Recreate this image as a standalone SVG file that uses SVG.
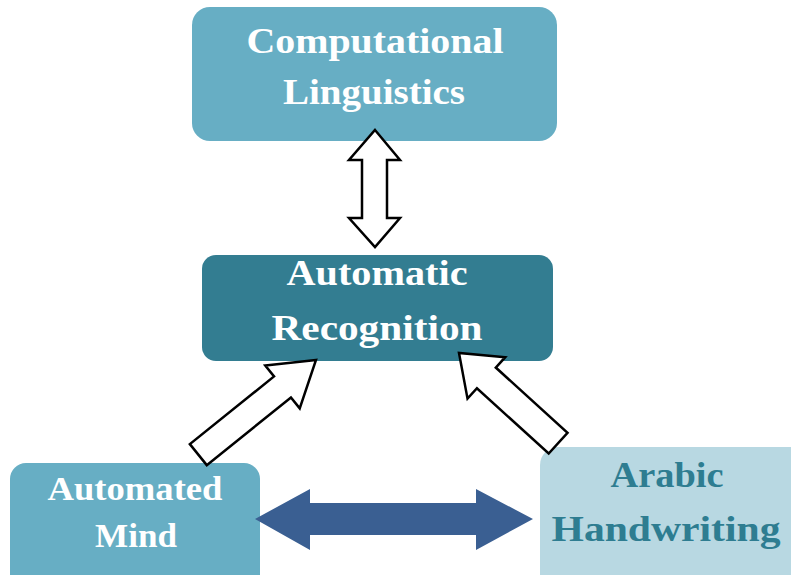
<svg xmlns="http://www.w3.org/2000/svg" width="791" height="575" viewBox="0 0 791 575">
<style>
.t{font-family:"Liberation Serif","DejaVu Serif",serif;font-weight:bold;text-anchor:middle;}
.w{fill:#ffffff;}
.o{fill:#ffffff;stroke:#000000;stroke-width:2.5;stroke-linejoin:miter;}
</style>
<rect width="791" height="575" fill="#ffffff"/>
<g id="computational-linguistics">
<rect x="192" y="7" width="365" height="134" rx="18" fill="#67AEC4"/>
<text class="t w" x="375" y="53" font-size="35" textLength="257" lengthAdjust="spacingAndGlyphs">Computational</text>
<text class="t w" x="374" y="104" font-size="35" textLength="182" lengthAdjust="spacingAndGlyphs">Linguistics</text>
</g>
<g id="automatic-recognition">
<rect x="202" y="255" width="351" height="106" rx="14" fill="#337D91"/>
<text class="t w" x="377" y="285" font-size="35" textLength="181" lengthAdjust="spacingAndGlyphs">Automatic</text>
<text class="t w" x="377" y="340" font-size="35" textLength="211" lengthAdjust="spacingAndGlyphs">Recognition</text>
</g>
<g id="automated-mind">
<rect x="10" y="463" width="250" height="130" rx="16" fill="#67AEC4"/>
<text class="t w" x="135" y="500" font-size="34" textLength="175" lengthAdjust="spacingAndGlyphs">Automated</text>
<text class="t w" x="136" y="547" font-size="34" textLength="82" lengthAdjust="spacingAndGlyphs">Mind</text>
</g>
<g id="arabic-handwriting">
<rect x="540" y="447" width="270" height="145" rx="18" fill="#B8D8E2"/>
<text class="t" x="667" y="487" font-size="36" fill="#2E7D91" textLength="113" lengthAdjust="spacingAndGlyphs">Arabic</text>
<text class="t" x="666" y="541" font-size="36" fill="#2E7D91" textLength="229" lengthAdjust="spacingAndGlyphs">Handwriting</text>
</g>
<g id="connectors">
<polygon class="o" points="375,130 400,160 387,160 387,218 400,218 375,247 349,218 362,218 362,160 349,160"/>
<polygon class="o" transform="translate(316,360) rotate(-38.8)" points="0,0 -43,-27.5 -43,-13.5 -151,-13.5 -151,13.5 -43,13.5 -43,27.5"/>
<polygon class="o" transform="translate(459,353) rotate(-137.7)" points="0,0 -37,-28 -37,-14 -134,-14 -134,14 -37,14 -37,28"/>
<polygon fill="#3A5F92" points="255,519 310,489 310,503 476,503 476,489 533,519 476,550 476,535 310,535 310,550"/>
</g>
</svg>
